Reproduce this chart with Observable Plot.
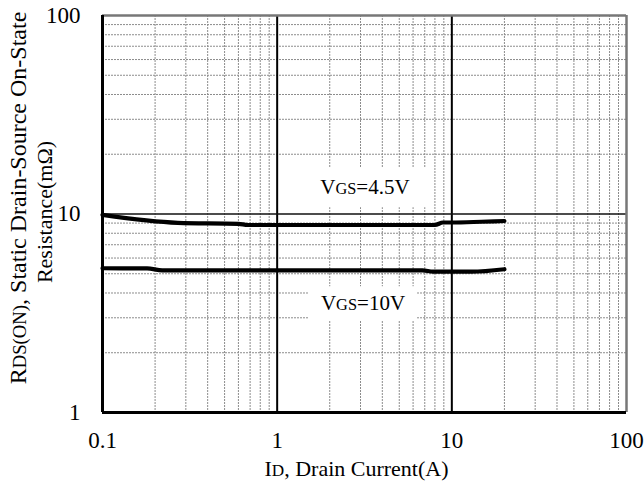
<!DOCTYPE html>
<html>
<head>
<meta charset="utf-8">
<script src="https://cdn.jsdelivr.net/npm/d3@7"></script>
<script src="https://cdn.jsdelivr.net/npm/@observablehq/plot@0.6"></script>
<style>
  body { margin: 0; background: #fff; }
  svg { display: block; }
  #chart svg, #chart svg text { font-family: "Liberation Serif", "Tinos", "DejaVu Serif", serif !important; }
</style>
</head>
<body>
<div id="chart"></div>
<script>
// Axis ticks (log decades) and their labels
const xTicks = [0.1, 1, 10, 100];
const xTickLabels = ["0.1", "1", "10", "100"];
const yTicks = [1, 10, 100];
const yTickLabels = ["1", "10", "100"];

// Minor log grid positions
const xMinor = [0.2, 0.3, 0.4, 0.5, 0.6, 0.7, 0.8, 0.9,
                2, 3, 4, 5, 6, 7, 8, 9,
                20, 30, 40, 50, 60, 70, 80, 90];
const yMinor = [2, 3, 4, 5, 6, 7, 8, 9,
                20, 30, 40, 50, 60, 70, 80, 90];

// RDS(ON) vs drain current, VGS = 4.5 V
const currentVgs45 = [0.1, 0.27, 0.6, 0.68, 8.0, 8.9, 10, 14.8, 20];
const rdsVgs45     = [9.9, 9.03, 8.92, 8.8, 8.8, 9.06, 9.06, 9.14, 9.22];

// RDS(ON) vs drain current, VGS = 10 V
const currentVgs10 = [0.1, 0.18, 0.22, 6.8, 7.8, 13, 20];
const rdsVgs10     = [5.33, 5.32, 5.2, 5.2, 5.12, 5.12, 5.27];

// Curve labels: [main, small caps, rest], anchored in data units
const curveLabelParts = [["V", "GS", "=4.5V"], ["V", "GS", "=10V"]];
const curveLabelX = [3.18, 3.1];
const curveLabelY = [13.6, 3.54];

// Axis titles
const xTitleParts = ["I", "D", ", Drain Current(A)"];
const yTitleParts = ["R", "DS(ON)", ", Static Drain-Source On-State"];
const yTitle2 = "Resistance(mΩ)";

const join = p => p.join("");
const vgs45 = currentVgs45.map((c, i) => ({current: c, rds: rdsVgs45[i]}));
const vgs10 = currentVgs10.map((c, i) => ({current: c, rds: rdsVgs10[i]}));
const labels = curveLabelParts.map((p, i) => ({text: join(p), x: curveLabelX[i], y: curveLabelY[i]}));

const serif = "'Liberation Serif', Tinos, 'DejaVu Serif', serif";
const gridStyle = {stroke: "#8c8c8c", strokeWidth: 1, strokeDasharray: "2,1"};
const fontSize = 23;

const chart = Plot.plot({
  width: 644,
  height: 491,
  marginLeft: 102,
  marginRight: 18,
  marginTop: 15,
  marginBottom: 79,
  style: {fontFamily: serif, background: "#fff", color: "#000"},
  x: {type: "log", domain: [0.1, 100]},
  y: {type: "log", domain: [1, 100]},
  marks: [
    // minor grid
    Plot.ruleX(xMinor, gridStyle),
    Plot.ruleY(yMinor, gridStyle),
    // curve labels (white box added below)
    Plot.text(labels, {x: "x", y: "y", text: "text", fontSize: 21, fill: "#000", fontFamily: serif}),
    // decade lines
    Plot.ruleX([1, 10], {stroke: "#000", strokeWidth: 2}),
    Plot.ruleY([10], {stroke: "#111", strokeWidth: 1.6}),
    // frame
    Plot.ruleY([100], {stroke: "#777", strokeWidth: 2.5}),
    Plot.ruleX([100], {stroke: "#777", strokeWidth: 2.5}),
    Plot.ruleX([0.1], {stroke: "#000", strokeWidth: 3}),
    Plot.ruleY([1], {stroke: "#000", strokeWidth: 3}),
    // curves
    Plot.line(vgs45, {x: "current", y: "rds", stroke: "#000", strokeWidth: 4.2, curve: "monotone-x", strokeLinejoin: "round"}),
    Plot.line(vgs10, {x: "current", y: "rds", stroke: "#000", strokeWidth: 4.2, curve: "monotone-x", strokeLinejoin: "round"}),
    // axes
    Plot.axisX({ticks: xTicks, tickSize: 0, tickPadding: 19, fontSize, fontFamily: serif,
      tickFormat: d => xTickLabels[xTicks.indexOf(d)], label: null}),
    Plot.axisY({ticks: yTicks, tickSize: 0, tickPadding: 22, fontSize, fontFamily: serif,
      tickFormat: d => yTickLabels[yTicks.indexOf(d)], label: null}),
    // axis titles
    Plot.text([join(xTitleParts)], {text: d => d, frameAnchor: "bottom", dy: 63, dx: -8, fontSize: 22, fontFamily: serif}),
    Plot.text([join(yTitleParts)], {text: d => d, frameAnchor: "left", textAnchor: "middle",
      dx: -84, dy: -16, rotate: -90, fontSize: 24, fontFamily: serif}),
    Plot.text([yTitle2], {text: d => d, frameAnchor: "left", textAnchor: "middle",
      dx: -58, dy: -2, rotate: -90, fontSize: 22, fontFamily: serif})
  ]
});

document.getElementById("chart").appendChild(chart);

// Render the small-caps parts of labels with smaller glyphs
function smallCaps(parts) {
  const full = join(parts);
  d3.select(chart).selectAll("text").filter(function() { return this.textContent === full; })
    .each(function() {
      const t = d3.select(this);
      t.text(null);
      t.append("tspan").text(parts[0]);
      t.append("tspan").attr("font-size", "0.78em").text(parts[1]);
      t.append("tspan").text(parts[2]);
    });
}
[...curveLabelParts, xTitleParts, yTitleParts].forEach(smallCaps);

// White boxes behind the curve labels
const boxPad = [[17, 10], [12, 7]];
curveLabelParts.forEach((p, i) => {
  const full = join(p);
  d3.select(chart).selectAll("text").filter(function() { return this.textContent === full; })
    .each(function() {
      const b = this.getBBox();
      const [px, py] = boxPad[i];
      const r = document.createElementNS("http://www.w3.org/2000/svg", "rect");
      r.setAttribute("x", b.x - px);
      r.setAttribute("y", b.y - py + 2);
      r.setAttribute("width", b.width + 2 * px);
      r.setAttribute("height", b.height + 2 * py - 4);
      r.setAttribute("fill", "#fff");
      if (this.getAttribute("transform")) r.setAttribute("transform", this.getAttribute("transform"));
      this.parentNode.insertBefore(r, this);
    });
});
</script>
</body>
</html>
